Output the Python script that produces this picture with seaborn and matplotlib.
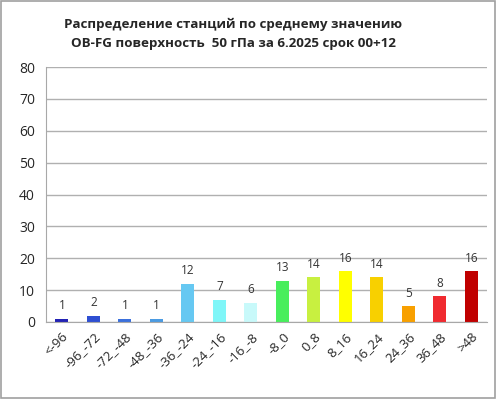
import matplotlib
matplotlib.use("Agg")
import matplotlib.pyplot as plt
import seaborn as sns
import pandas as pd
from matplotlib.patches import Rectangle

categories = ["<-96", "-96_-72", "-72_-48", "-48_-36", "-36_-24", "-24_-16", "-16_-8",
              "-8_0", "0_8", "8_16", "16_24", "24_36", "36_48", ">48"]
counts = [1, 2, 1, 1, 12, 7, 6, 13, 14, 16, 14, 5, 8, 16]
bar_colors = ["#2222b4", "#2e4fd2", "#3b70dc", "#4b9be2", "#66c8f2", "#7ff6f8", "#c8f9fa",
              "#48ee5c", "#c8f040", "#ffff00", "#f8d000", "#f8a000", "#f02a30", "#c00000"]
title = "Распределение станций по среднему значению\nOB-FG поверхность  50 гПа за 6.2025 срок 00+12"

df = pd.DataFrame({"cat": categories, "n": counts})

sns.set_style("white")
plt.rcParams["font.family"] = ["Open Sans", "DejaVu Sans"]

fig = plt.figure(figsize=(4.96, 3.99), dpi=100)
fig.patches.append(Rectangle((0.002, 0.002), 0.996, 0.996, transform=fig.transFigure,
                             fill=False, edgecolor="#a0a0a0", linewidth=1.2))
ax = fig.add_axes([0.093, 0.193, 0.889, 0.639])

sns.barplot(data=df, x="cat", y="n", hue="cat", palette=bar_colors, legend=False,
            width=0.42, ax=ax, edgecolor="none", saturation=1)

for i, v in enumerate(counts):
    ax.text(i, v + 2.0, str(v), ha="center", va="bottom", fontsize=8.5, color="#333333")

ax.set_ylim(0, 80)
ax.set_xlim(-0.5, len(categories) - 0.5)
ax.set_yticks(range(0, 81, 10))
ax.yaxis.grid(True, color="#b0b0b0", linewidth=1)
ax.set_axisbelow(True)
for s in ["top", "right"]:
    ax.spines[s].set_visible(False)
ax.spines["left"].set_color("#a8a8a8")
ax.spines["bottom"].set_color("#a8a8a8")

ax.set_xticks([i - 0.5 for i in range(len(categories) + 1)], minor=True)
ax.set_xticks(range(len(categories)))
ax.set_xticklabels(categories, rotation=45, ha="right", rotation_mode="anchor", fontsize=9.5)
ax.tick_params(axis="x", which="major", length=0, pad=6)
ax.tick_params(axis="x", which="minor", length=4, color="#a8a8a8", direction="out")
ax.tick_params(axis="y", length=4, color="#a8a8a8", direction="out", labelsize=10, pad=4)
ax.set_xlabel("")
ax.set_ylabel("")

fig.text(0.47, 0.955, title, ha="center", va="top", fontsize=9.6, fontweight="bold",
         linespacing=1.55)

fig.savefig("out.png", dpi=100)
